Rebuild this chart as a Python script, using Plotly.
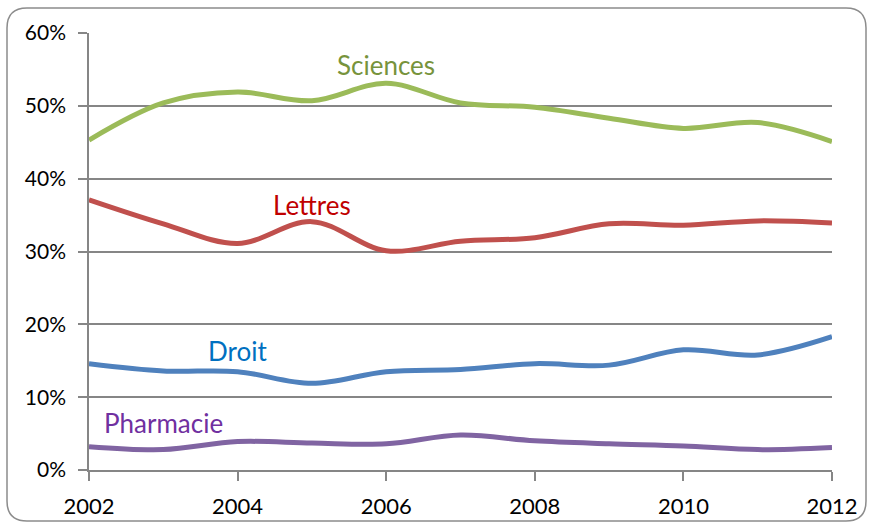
import plotly.graph_objects as go

years = list(range(2002, 2013))
sciences = [45.3, 50.4, 51.9, 50.7, 53.1, 50.4, 49.8, 48.3, 46.9, 47.7, 45.1]
lettres = [37.1, 33.8, 31.1, 34.1, 30.1, 31.4, 31.9, 33.8, 33.6, 34.2, 33.9]
droit = [14.6, 13.6, 13.5, 11.9, 13.5, 13.8, 14.6, 14.4, 16.5, 15.8, 18.3]
pharmacie = [3.2, 2.8, 3.9, 3.7, 3.6, 4.8, 4.0, 3.6, 3.3, 2.8, 3.1]

series = [
    ("Sciences", sciences, "#9BBB59", "#77933C", 2006.0, 55.6),
    ("Lettres", lettres, "#C0504D", "#C00000", 2005.0, 36.4),
    ("Droit", droit, "#4F81BD", "#0070C0", 2004.0, 16.4),
    ("Pharmacie", pharmacie, "#8064A2", "#7030A0", 2003.0, 6.4),
]

x_ticks = [2002, 2004, 2006, 2008, 2010, 2012]
y_ticks = [0, 10, 20, 30, 40, 50, 60]

FONT = "Lato"
fig = go.Figure()
for name, vals, col, lcol, lx, ly in series:
    fig.add_trace(go.Scatter(x=years, y=vals, mode="lines", name=name,
                             line=dict(color=col, width=5, shape="spline", smoothing=1.0),
                             hoverinfo="skip"))
    fig.add_annotation(x=lx, y=ly, text=name, showarrow=False, xref="x", yref="y",
                       font=dict(family=FONT, size=26, color=lcol))

# plot area in pixels
PL, PR, PT, PB = 89, 832, 33, 470
def X(px):
    return (px - PL) / (PR - PL)
def Y(py):
    return (PB - py) / (PB - PT)

L, R, T, B, r = 7, 866, 8, 521, 20
path = (f"M {X(L+r)},{Y(T)} L {X(R-r)},{Y(T)} Q {X(R)},{Y(T)} {X(R)},{Y(T+r)} "
        f"L {X(R)},{Y(B-r)} Q {X(R)},{Y(B)} {X(R-r)},{Y(B)} "
        f"L {X(L+r)},{Y(B)} Q {X(L)},{Y(B)} {X(L)},{Y(B-r)} "
        f"L {X(L)},{Y(T+r)} Q {X(L)},{Y(T)} {X(L+r)},{Y(T)} Z")
fig.add_shape(type="path", path=path, xref="paper", yref="paper",
              line=dict(color="#8C8C8C", width=1.5), layer="below")

fig.update_layout(
    width=870, height=525,
    margin=dict(l=PL, r=870 - PR, t=PT, b=525 - PB, autoexpand=False),
    paper_bgcolor="white", plot_bgcolor="white",
    showlegend=False,
    font=dict(family=FONT, size=21, color="black"),
    xaxis=dict(range=[2002, 2012], tickvals=x_ticks, ticktext=[str(v) for v in x_ticks],
               showgrid=False, zeroline=False, showline=True, linecolor="#868686", linewidth=1.5,
               ticks="outside", ticklen=9, tickcolor="#868686", tickwidth=1.5,
               ticklabelstandoff=7, automargin=False,
               tickfont=dict(family=FONT, size=22), fixedrange=True),
    yaxis=dict(range=[0, 60], tickvals=y_ticks, ticktext=[f"{v}%" for v in y_ticks],
               showgrid=True, gridcolor="#868686", gridwidth=1.5, zeroline=False,
               showline=True, linecolor="#868686", linewidth=1.5,
               ticks="outside", ticklen=9, tickcolor="#868686", tickwidth=1.5,
               ticklabelstandoff=8, automargin=False,
               tickfont=dict(family=FONT, size=21), fixedrange=True),
)
fig.write_html("out.html", config={"displayModeBar": False},
               post_script="document.body.style.margin='0';document.body.style.overflow='hidden';")
